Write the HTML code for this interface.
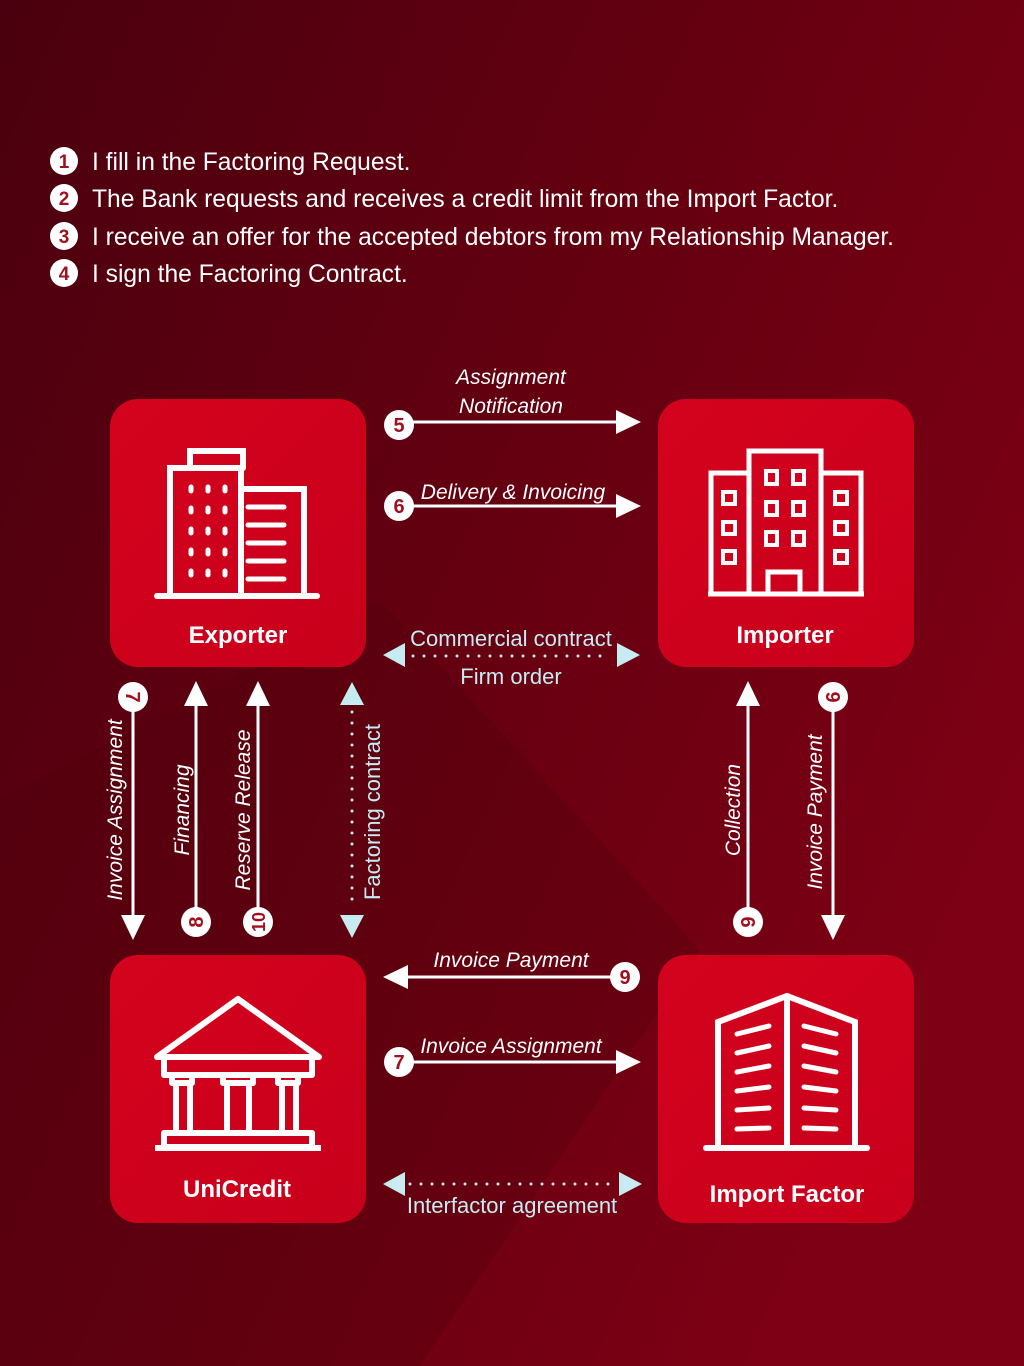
<!DOCTYPE html>
<html><head><meta charset="utf-8"><style>
html,body{margin:0;padding:0;width:1024px;height:1366px;overflow:hidden;background:#5e0011}
svg{display:block}
text{font-family:"Liberation Sans",sans-serif}
</style></head><body>
<svg width="1024" height="1366" viewBox="0 0 1024 1366" xmlns="http://www.w3.org/2000/svg">
<defs>
<linearGradient id="bg" x1="0" y1="0" x2="1" y2="0.6">
<stop offset="0" stop-color="#4a000e"/><stop offset="0.6" stop-color="#680011"/><stop offset="1" stop-color="#7e0014"/>
</linearGradient>
<linearGradient id="bx" x1="0" y1="0" x2="1" y2="1">
<stop offset="0" stop-color="#d4021d"/><stop offset="1" stop-color="#c8001b"/>
</linearGradient>
</defs>
<rect width="1024" height="1366" fill="url(#bg)"/>
<polygon points="0,800 380,600 700,950 420,1366 0,1366" fill="#4e000d" opacity="0.3"/>

<!-- list -->
<g fill="#fff">
<circle cx="64" cy="161" r="14"/><circle cx="64" cy="198" r="14"/><circle cx="64" cy="236" r="14"/><circle cx="64" cy="273" r="14"/>
</g>
<g fill="#a0101e" font-size="19" font-weight="bold" text-anchor="middle">
<text x="64" y="168">1</text><text x="64" y="205">2</text><text x="64" y="243">3</text><text x="64" y="280">4</text>
</g>
<g fill="#fff" font-size="24.6">
<text x="92" y="170">I fill in the Factoring Request.</text>
<text x="92" y="207">The Bank requests and receives a credit limit from the Import Factor.</text>
<text x="92" y="245">I receive an offer for the accepted debtors from my Relationship Manager.</text>
<text x="92" y="282">I sign the Factoring Contract.</text>
</g>

<!-- boxes -->
<g fill="url(#bx)">
<rect x="110" y="399" width="256" height="268" rx="28"/>
<rect x="658" y="399" width="256" height="268" rx="28"/>
<rect x="110" y="955" width="256" height="268" rx="28"/>
<rect x="658" y="955" width="256" height="268" rx="28"/>
</g>
<g fill="#fff" font-size="24" font-weight="bold" text-anchor="middle">
<text x="238" y="643">Exporter</text>
<text x="785" y="643">Importer</text>
<text x="237" y="1197">UniCredit</text>
<text x="787" y="1202">Import Factor</text>
</g>

<!-- exporter icon -->
<g stroke="#fff" stroke-width="6" fill="none" stroke-linecap="round">
<line x1="157" y1="596" x2="317" y2="596"/>
<polyline points="170,596 170,468 241,468 241,488"/>
<polyline points="190,468 190,451 243,451 243,468"/>
<rect x="241" y="489" width="63" height="107"/>
<g stroke-width="5"><line x1="248" y1="507" x2="284" y2="507"/><line x1="248" y1="525" x2="284" y2="525"/><line x1="248" y1="543" x2="284" y2="543"/><line x1="248" y1="561" x2="284" y2="561"/><line x1="248" y1="579" x2="284" y2="579"/></g>
<g stroke-width="5">
<line x1="191" y1="487" x2="191" y2="491"/><line x1="208" y1="487" x2="208" y2="491"/><line x1="225" y1="487" x2="225" y2="491"/>
<line x1="191" y1="508" x2="191" y2="512"/><line x1="208" y1="508" x2="208" y2="512"/><line x1="225" y1="508" x2="225" y2="512"/>
<line x1="191" y1="529" x2="191" y2="533"/><line x1="208" y1="529" x2="208" y2="533"/><line x1="225" y1="529" x2="225" y2="533"/>
<line x1="191" y1="550" x2="191" y2="554"/><line x1="208" y1="550" x2="208" y2="554"/><line x1="225" y1="550" x2="225" y2="554"/>
<line x1="191" y1="571" x2="191" y2="575"/><line x1="208" y1="571" x2="208" y2="575"/><line x1="225" y1="571" x2="225" y2="575"/>
</g>
</g>

<!-- importer icon -->
<g stroke="#fff" stroke-width="5" fill="none">
<polyline points="711,594 711,473 749,473"/>
<polyline points="861,594 861,473 821,473"/>
<rect x="749" y="451" width="72" height="143"/>
<line x1="708" y1="594" x2="864" y2="594"/>
<rect x="768" y="572" width="32" height="22"/>
<g stroke-width="4">
<rect x="723" y="492" width="12" height="12"/><rect x="723" y="522" width="12" height="12"/><rect x="723" y="551" width="12" height="12"/>
<rect x="835" y="492" width="12" height="12"/><rect x="835" y="522" width="12" height="12"/><rect x="835" y="551" width="12" height="12"/>
<rect x="766" y="471" width="11" height="13"/><rect x="793" y="471" width="11" height="13"/>
<rect x="766" y="502" width="11" height="13"/><rect x="793" y="502" width="11" height="13"/>
<rect x="766" y="532" width="11" height="13"/><rect x="793" y="532" width="11" height="13"/>
</g>
</g>

<!-- unicredit icon -->
<g stroke="#fff" stroke-width="6" fill="none" stroke-linejoin="round">
<polygon points="238,999 157,1057 319,1057"/>
<rect x="164" y="1057" width="148" height="18"/>
<rect x="172" y="1075" width="20" height="8"/><rect x="223" y="1075" width="30" height="8"/><rect x="278" y="1075" width="20" height="8"/>
<line x1="176" y1="1083" x2="176" y2="1133"/><line x1="190" y1="1083" x2="190" y2="1133"/>
<line x1="227" y1="1083" x2="227" y2="1133"/><line x1="249" y1="1083" x2="249" y2="1133"/>
<line x1="282" y1="1083" x2="282" y2="1133"/><line x1="296" y1="1083" x2="296" y2="1133"/>
<rect x="164" y="1133" width="148" height="14"/>
<line x1="155" y1="1148" x2="321" y2="1148"/>
</g>

<!-- import factor icon -->
<g stroke="#fff" stroke-width="6" fill="none" stroke-linecap="round">
<line x1="706" y1="1148" x2="867" y2="1148"/>
<polyline points="718,1148 718,1022 787,996 855,1022 855,1148"/>
<line x1="787" y1="997" x2="787" y2="1148"/>
<g stroke-width="5">
<line x1="737" y1="1034" x2="769" y2="1026"/><line x1="737" y1="1053" x2="769" y2="1046"/><line x1="737" y1="1072" x2="769" y2="1066"/>
<line x1="737" y1="1091" x2="769" y2="1087"/><line x1="737" y1="1110" x2="769" y2="1108"/><line x1="737" y1="1129" x2="769" y2="1128"/>
<line x1="804" y1="1026" x2="836" y2="1034"/><line x1="804" y1="1046" x2="836" y2="1053"/><line x1="804" y1="1066" x2="836" y2="1072"/>
<line x1="804" y1="1087" x2="836" y2="1091"/><line x1="804" y1="1108" x2="836" y2="1110"/><line x1="804" y1="1128" x2="836" y2="1129"/>
</g>
</g>

<!-- horizontal arrows -->
<g stroke="#fff" stroke-width="3">
<line x1="405" y1="422" x2="618" y2="422"/>
<line x1="405" y1="506" x2="618" y2="506"/>
<line x1="405" y1="1062" x2="618" y2="1062"/>
<line x1="406" y1="977" x2="612" y2="977"/>
</g>
<g fill="#fff">
<polygon points="616,410 641,422 616,434"/>
<polygon points="616,494 641,506 616,518"/>
<polygon points="616,1050 641,1062 616,1074"/>
<polygon points="408,965 383,977 408,989"/>
</g>
<g fill="#c6ecf2">
<polygon points="405,643 383,655 405,667"/><polygon points="617,643 640,655 617,667"/>
<polygon points="405,1172 383,1184 405,1196"/><polygon points="619,1172 642,1184 619,1196"/>
</g>
<g stroke="#c6ecf2" stroke-width="3" stroke-linecap="round" stroke-dasharray="0 11">
<line x1="413" y1="656" x2="610" y2="656"/>
<line x1="410" y1="1184" x2="614" y2="1184"/>
<line x1="352" y1="712" x2="352" y2="908"/>
</g>

<!-- vertical arrows -->
<g stroke="#fff" stroke-width="3">
<line x1="133" y1="705" x2="133" y2="918"/>
<line x1="196" y1="702" x2="196" y2="912"/>
<line x1="258" y1="702" x2="258" y2="912"/>
<line x1="748" y1="702" x2="748" y2="912"/>
<line x1="833" y1="705" x2="833" y2="918"/>
</g>
<g fill="#fff">
<polygon points="121,915 133,940 145,915"/>
<polygon points="184,706 196,681 208,706"/>
<polygon points="246,706 258,681 270,706"/>
<polygon points="736,706 748,681 760,706"/>
<polygon points="821,915 833,940 845,915"/>
</g>
<g fill="#c6ecf2">
<polygon points="340,705 352,682 364,705"/><polygon points="340,915 352,938 364,915"/>
</g>

<!-- number circles -->
<g fill="#fff">
<circle cx="399" cy="425" r="15"/><circle cx="399" cy="506" r="15"/>
<circle cx="399" cy="1062" r="15"/><circle cx="625" cy="977" r="15"/>
<circle cx="133" cy="697" r="15"/><circle cx="196" cy="922" r="15"/><circle cx="258" cy="922" r="15"/>
<circle cx="748" cy="922" r="15"/><circle cx="833" cy="697" r="15"/>
</g>
<g fill="#a0101e" font-size="20" font-weight="bold" text-anchor="middle">
<text x="399" y="432">5</text><text x="399" y="513">6</text><text x="399" y="1069">7</text><text x="625" y="984">9</text>
<text transform="translate(133,697) rotate(90)" y="7">7</text>
<text transform="translate(196,922) rotate(-90)" y="7">8</text>
<text transform="translate(258,922) rotate(-90)" y="7" font-size="18">10</text>
<text transform="translate(748,922) rotate(-90)" y="7">9</text>
<text transform="translate(833,697) rotate(90)" y="7">9</text>
</g>

<!-- labels -->
<g fill="#fff" font-size="21" font-style="italic" text-anchor="middle">
<text x="511" y="384">Assignment</text>
<text x="511" y="413">Notification</text>
<text x="513" y="499">Delivery &amp; Invoicing</text>
<text x="511" y="967">Invoice Payment</text>
<text x="511" y="1053">Invoice Assignment</text>
<text transform="translate(122,810) rotate(-90)">Invoice Assignment</text>
<text transform="translate(189,810) rotate(-90)">Financing</text>
<text transform="translate(250,810) rotate(-90)">Reserve Release</text>
<text transform="translate(740,810) rotate(-90)">Collection</text>
<text transform="translate(822,812) rotate(-90)">Invoice Payment</text>
</g>
<g fill="#c6ecf2" font-size="22" text-anchor="middle">
<text x="511" y="646">Commercial contract</text>
<text x="511" y="684">Firm order</text>
<text x="512" y="1213">Interfactor agreement</text>
<text transform="translate(380,812) rotate(-90)">Factoring contract</text>
</g>
</svg>
</body></html>
